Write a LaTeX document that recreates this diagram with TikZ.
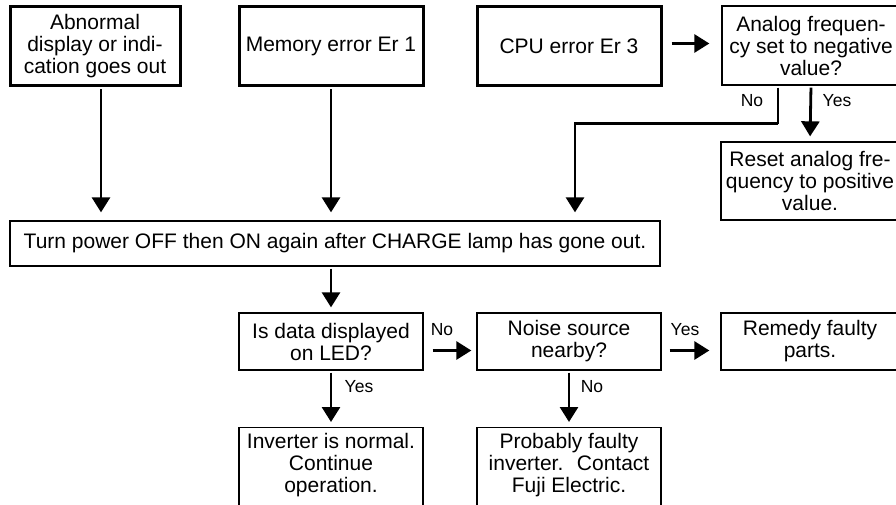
\documentclass[tikz,border=0pt]{standalone}
\usepackage{fontspec}
\setmainfont{Liberation Sans}
\usepackage{tikz}
\usetikzlibrary{positioning,arrows.meta,calc}

\begin{document}
\begin{tikzpicture}[
  x=1pt, y=-1pt,
  font=\fontsize{21}{22}\selectfont,
  >={Triangle[length=15pt,width=18pt]},
  box/.style={draw, line width=1.3pt, align=center, inner sep=0pt},
  heavybox/.style={box, line width=3pt},
  flow/.style={->, line width=2.8pt, shorten <=2pt, shorten >=5pt},
  lbl/.style={font=\fontsize{17.5}{20}\selectfont, anchor=base},
]
  % Frame
  \useasboundingbox (0,0) rectangle (896,505);
  \clip (0,0) rectangle (896,505);

  % Error boxes
  \node[heavybox, minimum width=170, minimum height=79] (abnormal) at (95,46.5)
    {Abnormal\\display or indi-\\cation goes out};
  \node[heavybox, minimum width=184, minimum height=79] (memerr) at (331,46.5)
    {Memory error Er 1};
  \node[heavybox, minimum width=184, minimum height=79] (cpuerr) at (569,46.5)
    {CPU error Er 3};

  % Analog check
  \node[box, minimum width=178, minimum height=79] (analog) at (811,45.5)
    {Analog frequen-\\cy set to negative\\value?};
  \node[box, minimum width=178, minimum height=78] (reset) at (810,181)
    {Reset analog fre-\\quency to positive\\value.};

  % Power cycle
  \node[box, minimum width=650, minimum height=45] (power) at (335,243.5)
    {Turn power OFF then ON again after CHARGE lamp has gone out.};

  % Checks
  \node[box, minimum width=184, minimum height=57] (ledcheck) at (331,341.5)
    {Is data displayed\\on LED?};
  \node[box, minimum width=184, minimum height=57] (noise) at (569,341.5)
    {Noise source\\nearby?};
  \node[box, minimum width=178, minimum height=57] (remedy) at (810,341.5)
    {Remedy faulty\\parts.};

  % Results (run off the page)
  \node[box, anchor=north, minimum width=184, inner ysep=6pt] (normal) at (331,427)
    {Inverter is normal.\\Continue\\operation.\\~\\~};
  \node[box, anchor=north, minimum width=184, inner ysep=6pt] (faulty) at (569,427)
    {Probably faulty\\inverter.~ Contact\\Fuji Electric.\\~\\~};

  % Connectors
  \draw[flow, shorten >=8pt] ([xshift=6]abnormal.south) -- ([xshift=6]abnormal.south |- power.north);
  \draw[flow, shorten >=8pt] (memerr.south) -- (memerr.south |- power.north);
  \draw[flow, shorten <=9pt, shorten >=12pt] ([yshift=3]cpuerr.east) -- ([yshift=3]cpuerr.east -| analog.west);
  \draw[flow] (analog.south) -- (reset.north);
  \draw[line width=2.8pt, shorten <=2pt] ([xshift=-33]analog.south) -- ++(0,38) coordinate (bend);
  \draw[flow, shorten <=0pt, shorten >=8pt] (bend) -| ([xshift=6]cpuerr.south |- power.north);
  \draw[flow] (ledcheck.north |- power.south) -- (ledcheck.north);
  \draw[flow] (ledcheck.south) -- (normal.north);
  \draw[flow, shorten <=9pt] ([yshift=-9]ledcheck.east) -- ([yshift=-9]noise.west);
  \draw[flow, shorten <=8pt, shorten >=11pt] ([yshift=-9]noise.east) -- ([yshift=-9]remedy.west);
  \draw[flow] (noise.south) -- (faulty.north);

  % Branch labels
  \node[lbl] (ano) at (752,107) {No};
  \node[lbl] (ayes) at (837,107) {Yes};
  \node[lbl] (lno) at (442,335) {No};
  \node[lbl] (nyes) at (685,335) {Yes};
  \node[lbl] (lyes) at (359,392) {Yes};
  \node[lbl] (nno) at (592,392) {No};
\end{tikzpicture}
\end{document}
